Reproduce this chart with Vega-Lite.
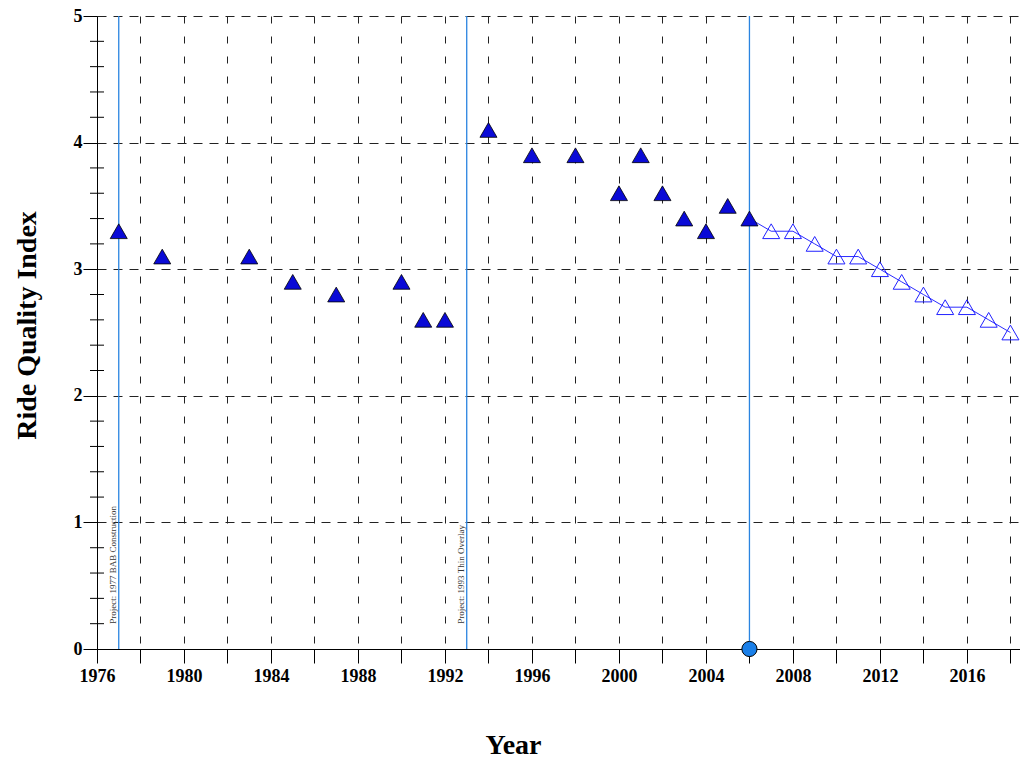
{
  "$schema": "https://vega.github.io/schema/vega-lite/v6.json",
  "width": 923,
  "height": 633,
  "autosize": "none",
  "padding": {"left": 97, "top": 16, "right": 0, "bottom": 110},
  "background": "white",
  "config": {"view": {"stroke": null}, "font": "Liberation Serif"},
  "datasets": {
    "rqi": [
      {"year": 1977, "rqi": 3.3, "type": "Observed"},
      {"year": 1979, "rqi": 3.1, "type": "Observed"},
      {"year": 1983, "rqi": 3.1, "type": "Observed"},
      {"year": 1985, "rqi": 2.9, "type": "Observed"},
      {"year": 1987, "rqi": 2.8, "type": "Observed"},
      {"year": 1990, "rqi": 2.9, "type": "Observed"},
      {"year": 1991, "rqi": 2.6, "type": "Observed"},
      {"year": 1992, "rqi": 2.6, "type": "Observed"},
      {"year": 1994, "rqi": 4.1, "type": "Observed"},
      {"year": 1996, "rqi": 3.9, "type": "Observed"},
      {"year": 1998, "rqi": 3.9, "type": "Observed"},
      {"year": 2000, "rqi": 3.6, "type": "Observed"},
      {"year": 2001, "rqi": 3.9, "type": "Observed"},
      {"year": 2002, "rqi": 3.6, "type": "Observed"},
      {"year": 2003, "rqi": 3.4, "type": "Observed"},
      {"year": 2004, "rqi": 3.3, "type": "Observed"},
      {"year": 2005, "rqi": 3.5, "type": "Observed"},
      {"year": 2006, "rqi": 3.4, "type": "Observed"},
      {"year": 2007, "rqi": 3.3, "type": "Predicted"},
      {"year": 2008, "rqi": 3.3, "type": "Predicted"},
      {"year": 2009, "rqi": 3.2, "type": "Predicted"},
      {"year": 2010, "rqi": 3.1, "type": "Predicted"},
      {"year": 2011, "rqi": 3.1, "type": "Predicted"},
      {"year": 2012, "rqi": 3.0, "type": "Predicted"},
      {"year": 2013, "rqi": 2.9, "type": "Predicted"},
      {"year": 2014, "rqi": 2.8, "type": "Predicted"},
      {"year": 2015, "rqi": 2.7, "type": "Predicted"},
      {"year": 2016, "rqi": 2.7, "type": "Predicted"},
      {"year": 2017, "rqi": 2.6, "type": "Predicted"},
      {"year": 2018, "rqi": 2.5, "type": "Predicted"}
    ],
    "events": [
      {"year": 1977, "label": "Project: 1977 BAB Construction"},
      {"year": 1993, "label": "Project: 1993 Thin Overlay"},
      {"year": 2006, "label": ""}
    ],
    "current": [{"year": 2006, "rqi": 0}],
    "minor": [
      {"rqi": 0.2}, {"rqi": 0.4}, {"rqi": 0.6}, {"rqi": 0.8},
      {"rqi": 1.2}, {"rqi": 1.4}, {"rqi": 1.6}, {"rqi": 1.8},
      {"rqi": 2.2}, {"rqi": 2.4}, {"rqi": 2.6}, {"rqi": 2.8},
      {"rqi": 3.2}, {"rqi": 3.4}, {"rqi": 3.6}, {"rqi": 3.8},
      {"rqi": 4.2}, {"rqi": 4.4}, {"rqi": 4.6}, {"rqi": 4.8}
    ]
  },
  "layer": [
    {
      "data": {"name": "rqi"},
      "transform": [{"filter": "datum.year >= 2006"}],
      "mark": {"type": "line", "color": "#2b2bff", "strokeWidth": 1},
      "encoding": {
        "x": {
          "field": "year", "type": "quantitative",
          "scale": {"domain": [1976, 2018.44], "nice": false, "zero": false},
          "axis": {
            "title": "Year",
            "values": [1976,1977,1978,1979,1980,1981,1982,1983,1984,1985,1986,1987,1988,1989,1990,1991,1992,1993,1994,1995,1996,1997,1998,1999,2000,2001,2002,2003,2004,2005,2006,2007,2008,2009,2010,2011,2012,2013,2014,2015,2016,2017,2018],
            "format": "d",
            "labelExpr": "datum.value % 4 === 0 ? datum.label : ''",
            "labelOverlap": false,
            "labelFlush": false,
            "tickSize": 14,
            "tickColor": "black",
            "tickWidth": 1,
            "domainColor": "black",
            "domainWidth": 1,
            "labelFont": "Liberation Serif",
            "labelFontSize": 18,
            "labelFontWeight": "bold",
            "labelColor": "black",
            "labelPadding": 4,
            "grid": true,
            "gridColor": "#222222",
            "gridDash": [7, 13],
            "gridWidth": 1,
            "gridOpacity": 1,
            "titleFont": "Liberation Serif",
            "titleFontSize": 28,
            "titleFontWeight": "bold",
            "titleColor": "black",
            "titleX": 416,
            "titleY": 104,
            "titleAlign": "center",
            "titleBaseline": "alphabetic"
          }
        },
        "y": {
          "field": "rqi", "type": "quantitative",
          "scale": {"domain": [0, 5], "nice": false},
          "axis": {
            "title": "Ride Quality Index",
            "values": [0, 1, 2, 3, 4, 5],
            "format": "d",
            "tickSize": 14,
            "tickColor": "black",
            "tickWidth": 1,
            "domainColor": "black",
            "domainWidth": 1,
            "labelFont": "Liberation Serif",
            "labelFontSize": 18,
            "labelFontWeight": "bold",
            "labelColor": "black",
            "labelPadding": 1,
            "grid": true,
            "gridColor": "#222222",
            "gridDash": [9, 7],
            "gridWidth": 1,
            "gridOpacity": 1,
            "titleFont": "Liberation Serif",
            "titleFontSize": 28,
            "titleFontWeight": "bold",
            "titleColor": "black",
            "titleAngle": 270,
            "titleX": -70,
            "titleY": 309,
            "titleAlign": "center",
            "titleBaseline": "middle"
          }
        }
      }
    },
    {
      "data": {"name": "events"},
      "mark": {"type": "rule", "color": "#2a84e0", "strokeWidth": 1.3},
      "encoding": {
        "x": {"field": "year", "type": "quantitative"}
      }
    },
    {
      "data": {"name": "events"},
      "mark": {"type": "text", "angle": 270, "align": "left", "baseline": "bottom", "dy": -1, "fontSize": 9, "font": "Liberation Serif", "color": "#333333"},
      "encoding": {
        "x": {"field": "year", "type": "quantitative"},
        "y": {"datum": 0.2, "type": "quantitative"},
        "text": {"field": "label"}
      }
    },
    {
      "data": {"name": "minor"},
      "mark": {"type": "tick", "orient": "horizontal", "size": 14, "thickness": 1, "color": "black", "opacity": 1},
      "encoding": {
        "x": {"datum": 1976, "type": "quantitative"},
        "y": {"field": "rqi", "type": "quantitative"}
      }
    },
    {
      "data": {"name": "rqi"},
      "transform": [{"filter": "datum.type === 'Predicted'"}],
      "mark": {"type": "point", "shape": "triangle-up", "size": 290, "filled": false, "stroke": "#2222ff", "strokeWidth": 1, "opacity": 1},
      "encoding": {
        "x": {"field": "year", "type": "quantitative"},
        "y": {"field": "rqi", "type": "quantitative"}
      }
    },
    {
      "data": {"name": "rqi"},
      "transform": [{"filter": "datum.type === 'Observed'"}],
      "mark": {"type": "point", "shape": "triangle-up", "size": 290, "filled": true, "fill": "#0a0ad6", "stroke": "black", "strokeWidth": 0.8, "opacity": 1},
      "encoding": {
        "x": {"field": "year", "type": "quantitative"},
        "y": {"field": "rqi", "type": "quantitative"}
      }
    },
    {
      "data": {"name": "current"},
      "mark": {"type": "point", "shape": "circle", "size": 230, "filled": true, "fill": "#1a7fe8", "stroke": "black", "strokeWidth": 1, "opacity": 1},
      "encoding": {
        "x": {"field": "year", "type": "quantitative"},
        "y": {"field": "rqi", "type": "quantitative"}
      }
    }
  ]
}
